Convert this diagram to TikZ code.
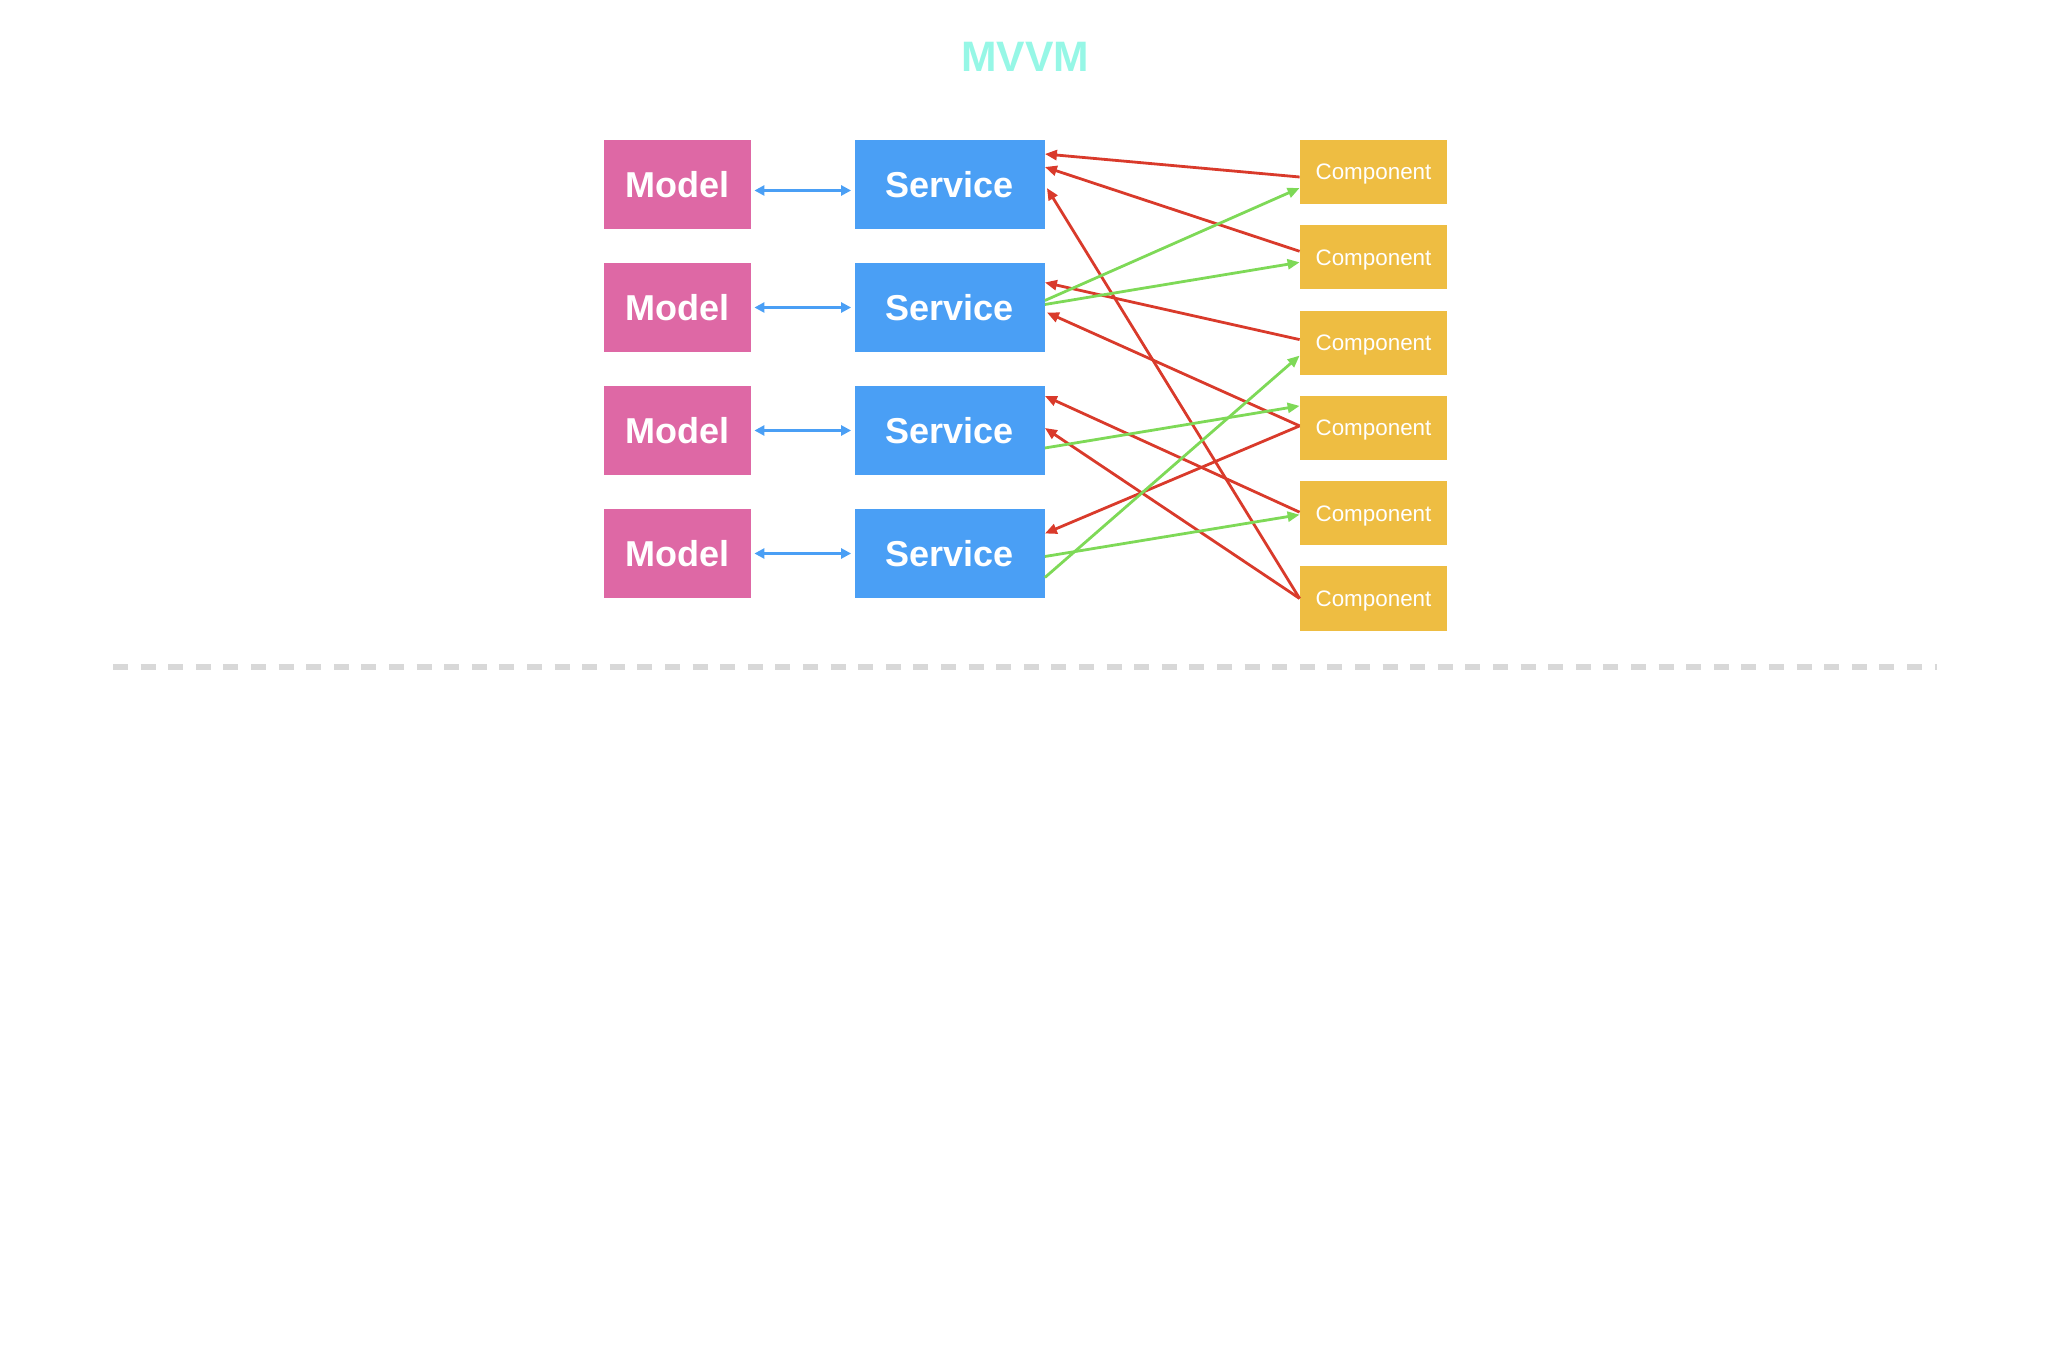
\documentclass[tikz,border=0pt]{standalone}
\usepackage{fontspec}
\setmainfont{Liberation Sans}
\usetikzlibrary{arrows.meta}

\definecolor{modelpink}{HTML}{DE68A5}
\definecolor{serviceblue}{HTML}{4A9FF5}
\definecolor{compyellow}{HTML}{EEBD42}
\definecolor{linkred}{HTML}{D93A2B}
\definecolor{linkgreen}{HTML}{7ED957}
\definecolor{titlecyan}{HTML}{96F7E6}
\definecolor{sepgray}{HTML}{D8D8D8}

\tikzset{
    modelbox/.style={fill=modelpink, text=white, minimum width=73.5pt, minimum height=44.5pt, inner sep=0pt, font=\fontsize{18}{20}\selectfont\bfseries},
    servicebox/.style={fill=serviceblue, text=white, minimum width=95pt, minimum height=44.5pt, inner sep=0pt, font=\fontsize{18}{20}\selectfont\bfseries},
    compbox/.style={fill=compyellow, text=white, minimum width=73.5pt, minimum height=32pt, inner sep=0pt, text depth=0pt, font=\fontsize{11.2}{13}\selectfont},
    bothway/.style={serviceblue, line width=1.4pt, {Triangle[length=5pt,width=5pt]}-{Triangle[length=5pt,width=5pt]}},
    readlink/.style={linkred, line width=1.4pt, -{Triangle[length=6pt,width=5pt]}},
    writelink/.style={linkgreen, line width=1.4pt, -{Triangle[length=6pt,width=5pt]}}
}

\begin{document}
\begin{tikzpicture}[x=0.5pt, y=-0.5pt]

\useasboundingbox (0,0) rectangle (2048,1368);

\node[text=titlecyan, font=\fontsize{21.3}{24}\selectfont\bfseries] (title) at (1025,57) {MVVM};

% models and services
\foreach \i in {1,...,4}
{
    \node[modelbox] (m\i) at (677.5, 61.5+123*\i) {Model};
    \node[servicebox] (s\i) at (949.5, 61.5+123*\i) {Service};
}

\draw[bothway] ([shift={(3,6)}]m1.east) -- ([shift={(-3,6)}]s1.west);
\foreach \i in {2,3,4}
{
    \draw[bothway] ([xshift=1.5pt]m\i.east) -- ([xshift=-1.5pt]s\i.west);
}

% components
\foreach \i in {1,...,6}
{
    \node[compbox] (c\i) at (1373.5, 86.7+85.3*\i) {Component};
}

% component -> service
\foreach \a/\da/\b/\dx/\db in {c1/5/s1/0/-30.5, c2/-6/s1/0/-17.5, c6/0/s1/2/3.5, c3/-3/s2/0/-25, c4/-2/s2/2/5, c5/-1/s3/0/-34.5, c6/0/s3/0/-2.5, c4/-2/s4/0/-20}
{
    \draw[readlink] ([shift={(0,\da)}]\a.west) -- ([shift={(\dx,\db)}]\b.east);
}

% service -> component
\foreach \a/\da/\b/\db in {s2/-7/c1/16, s2/-3/c2/5, s3/17.5/c4/-22, s4/3/c5/1.5, s4/24/c3/13}
{
    \draw[writelink] ([shift={(0,\da)}]\a.east) -- ([shift={(0,\db)}]\b.west);
}

% separator
\coordinate (sepL) at (113,667);
\coordinate (sepR) at (1937,667);
\draw[sepgray, line width=3pt, dash pattern=on 7.5pt off 6.3pt] (sepL) -- (sepR);

\end{tikzpicture}
\end{document}
